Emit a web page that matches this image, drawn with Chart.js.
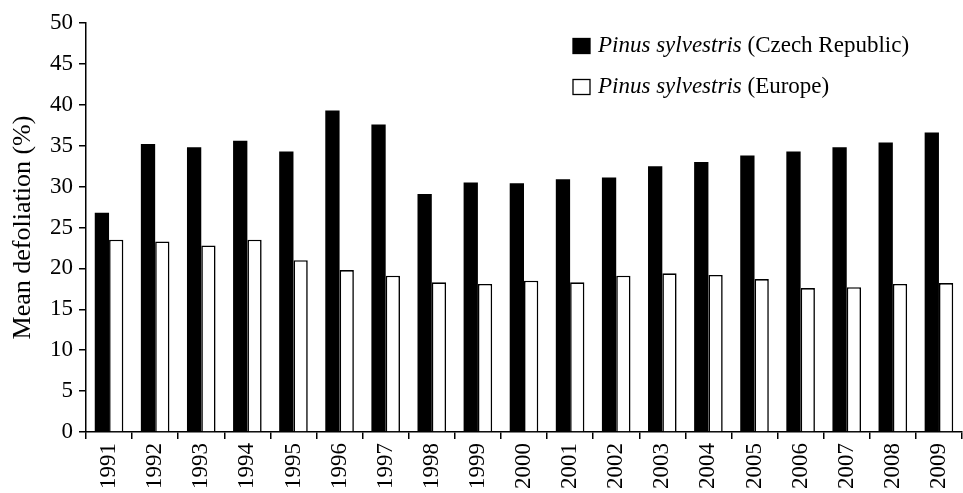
<!DOCTYPE html>
<html>
<head>
<meta charset="utf-8">
<script src="https://cdn.jsdelivr.net/npm/chart.js@4"></script>
<style>
  html, body { margin: 0; padding: 0; background: #fff; }
  #wrap { width: 963px; height: 493px; position: relative; }
</style>
</head>
<body>
<div id="wrap"><canvas id="c" width="963" height="493"></canvas></div>
<script>
// Mean crown defoliation of Scots pine, 1991–2009
const years = ['1991','1992','1993','1994','1995','1996','1997','1998','1999','2000',
               '2001','2002','2003','2004','2005','2006','2007','2008','2009'];
const czechRepublic = [26.8, 35.2, 34.8, 35.6, 34.3, 39.3, 37.6, 29.1, 30.5, 30.4,
                       30.9, 31.1, 32.5, 33.0, 33.8, 34.3, 34.8, 35.4, 36.6];
const europe = [23.5, 23.3, 22.8, 23.5, 21.0, 19.8, 19.1, 18.3, 18.1, 18.5,
                18.3, 19.1, 19.4, 19.2, 18.7, 17.6, 17.7, 18.1, 18.2];
const seriesNames = [
  ['Pinus sylvestris', ' (Czech Republic)'],
  ['Pinus sylvestris', ' (Europe)']
];
const yTitle = 'Mean defoliation (%)';

const FONT = '"Liberation Serif", "Times New Roman", serif';

// Legend with an italic species name followed by the region in roman type
const serifLegend = {
  id: 'serifLegend',
  afterDraw(chart) {
    const ctx = chart.ctx;
    const rows = [
      { fill: '#000', y: 46 },
      { fill: '#fff', y: 87 }
    ];
    ctx.save();
    rows.forEach((r, i) => {
      const bx = 573, w = 17, h = 15;
      ctx.fillStyle = r.fill;
      ctx.fillRect(bx, r.y - h / 2, w, h);
      ctx.lineWidth = 1.3;
      ctx.strokeStyle = '#000';
      ctx.strokeRect(bx, r.y - h / 2, w, h);
      ctx.fillStyle = '#000';
      ctx.textBaseline = 'middle';
      let x = 598;
      ctx.font = 'italic 23px ' + FONT;
      ctx.fillText(seriesNames[i][0], x, r.y);
      x += ctx.measureText(seriesNames[i][0]).width;
      ctx.font = '23px ' + FONT;
      ctx.fillText(seriesNames[i][1], x, r.y);
    });
    ctx.restore();
  }
};

new Chart(document.getElementById('c'), {
  type: 'bar',
  data: {
    labels: years,
    datasets: [
      {
        label: seriesNames[0].join(''),
        data: czechRepublic,
        backgroundColor: '#000',
        borderColor: '#000',
        borderWidth: 0,
        categoryPercentage: 0.62,
        barPercentage: 1.0
      },
      {
        label: seriesNames[1].join(''),
        data: europe,
        backgroundColor: '#fff',
        borderColor: '#000',
        borderWidth: 1.6,
        categoryPercentage: 0.62,
        barPercentage: 1.0
      }
    ]
  },
  options: {
    responsive: false,
    animation: false,
    layout: { padding: { top: 23, right: 1, left: 0, bottom: 0 } },
    plugins: {
      legend: { display: false },
      tooltip: { enabled: false }
    },
    scales: {
      x: {
        afterFit(scale) {
          scale.height = 61;
          scale.paddingLeft = 0;
          scale.paddingRight = 0;
        },
        grid: {
          display: true,
          offset: true,
          drawOnChartArea: false,
          drawTicks: true,
          tickLength: 7,
          color: '#000',
          lineWidth: 1.5
        },
        border: { display: true, color: '#000', width: 1.5 },
        ticks: {
          color: '#000',
          font: { family: FONT, size: 23 },
          minRotation: 90,
          maxRotation: 90,
          padding: 4,
          autoSkip: false
        }
      },
      y: {
        min: 0,
        max: 50,
        afterFit(scale) { scale.width = 86; },
        grid: {
          display: true,
          drawOnChartArea: false,
          drawTicks: true,
          tickLength: 7,
          color: '#000',
          lineWidth: 1.5
        },
        border: { display: true, color: '#000', width: 1.5 },
        ticks: {
          stepSize: 5,
          color: '#000',
          font: { family: FONT, size: 23 },
          padding: 6
        },
        title: {
          display: true,
          text: yTitle,
          color: '#000',
          font: { family: FONT, size: 26 },
          padding: { top: 8, bottom: 0 }
        }
      }
    }
  },
  plugins: [serifLegend]
});
</script>
</body>
</html>
